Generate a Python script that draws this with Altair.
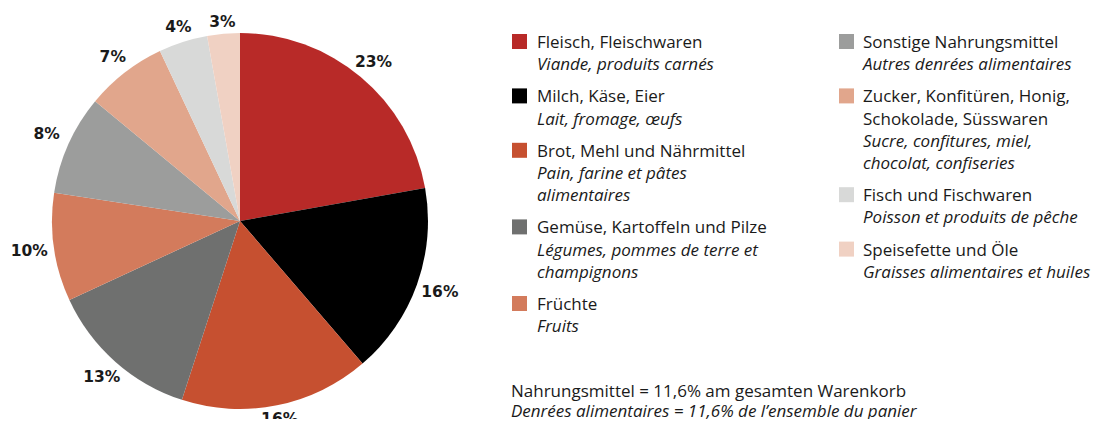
import math
import altair as alt
import pandas as pd

# ---- data ----
categories = [
    "Fleisch, Fleischwaren",
    "Milch, Käse, Eier",
    "Brot, Mehl und Nährmittel",
    "Gemüse, Kartoffeln und Pilze",
    "Früchte",
    "Sonstige Nahrungsmittel",
    "Zucker, Konfitüren, Honig, Schokolade, Süsswaren",
    "Fisch und Fischwaren",
    "Speisefette und Öle",
]
values = [22.2, 16.5, 16.3, 13.1, 9.3, 8.6, 7.0, 4.2, 2.8]
# printed labels
label_texts = ["23%", "16%", "16%", "13%", "10%", "8%", "7%", "4%", "3%"]
colors = ["#B82A28", "#000000", "#C65030", "#6F706F", "#D37B5C",
          "#9C9D9C", "#E1A68C", "#D8D9D8", "#F0D1C3"]

legend_de = [
    ["Fleisch, Fleischwaren"],
    ["Milch, Käse, Eier"],
    ["Brot, Mehl und Nährmittel"],
    ["Gemüse, Kartoffeln und Pilze"],
    ["Früchte"],
    ["Sonstige Nahrungsmittel"],
    ["Zucker, Konfitüren, Honig,", "Schokolade, Süsswaren"],
    ["Fisch und Fischwaren"],
    ["Speisefette und Öle"],
]
legend_fr = [
    ["Viande, produits carnés"],
    ["Lait, fromage, œufs"],
    ["Pain, farine et pâtes", "alimentaires"],
    ["Légumes, pommes de terre et", "champignons"],
    ["Fruits"],
    ["Autres denrées alimentaires"],
    ["Sucre, confitures, miel,", "chocolat, confiseries"],
    ["Poisson et produits de pêche"],
    ["Graisses alimentaires et huiles"],
]
legend_column = [0, 0, 0, 0, 0, 1, 1, 1, 1]

footnote = [
    "Nahrungsmittel = 11,6% am gesamten Warenkorb",
    "Denrées alimentaires = 11,6% de l’ensemble du panier",
]

# ---- layout constants ----
W, H = 1085, 411
CX, CY, R = 232, 213, 188
FONT = "Open Sans"
FS = 17
TXT = "#1a1a1a"

# ---- pie table ----
total = sum(values)
starts, ends, mids = [], [], []
cum = 0
for v in values:
    starts.append(cum)
    ends.append(cum + v)
    mids.append(cum + v / 2)
    cum += v
pie = pd.DataFrame({
    "cat": categories,
    "value": values,
    "start": starts,
    "end": ends,
    "mid": mids,
    "label": label_texts,
    "lr": [199 + 14 * abs(math.sin(m / total * 2 * math.pi)) for m in mids],
})

color_scale = alt.Scale(domain=categories, range=colors)
theta_scale = alt.Scale(domain=[0, total], range=[0, 2 * math.pi])

arcs = alt.Chart(pie).mark_arc(radius=R).encode(
    theta=alt.Theta("start:Q", scale=theta_scale, stack=None),
    theta2="end:Q",
    color=alt.Color("cat:N", scale=color_scale, legend=None),
    x=alt.value(CX), y=alt.value(CY),
)

labels = alt.Chart(pie).mark_text(
    font="DejaVu Sans", fontWeight="bold", fontSize=15.5, color=TXT,
    align="center", baseline="middle",
).encode(
    theta=alt.Theta("mid:Q", scale=theta_scale, stack=None),
    radius=alt.Radius("lr:Q", scale=None, stack=None),
    text="label:N",
    x=alt.value(CX), y=alt.value(CY),
)

# ---- legend table (positions derived from line counts) ----
col_text_x = [529, 855]
col_sq_x = [511.5, 838.5]
LINE, GAP, Y0 = 22.2, 10, 35
rows, squares = [], []
ypos = [Y0, Y0]
for i, cat in enumerate(categories):
    c = legend_column[i]
    y = ypos[c]
    squares.append({"cat": cat, "px": col_sq_x[c], "py": y - 1.5})
    for t in legend_de[i]:
        rows.append({"text": t, "style": "de", "px": col_text_x[c], "py": y})
        y += LINE
    for t in legend_fr[i]:
        rows.append({"text": t, "style": "fr", "px": col_text_x[c], "py": y})
        y += LINE
    ypos[c] = y + GAP
for j, t in enumerate(footnote):
    rows.append({"text": t, "style": "de" if j == 0 else "fr", "px": 503, "py": 384 + j * 19.5})

sq_df = pd.DataFrame(squares)
txt_df = pd.DataFrame(rows)

sq = alt.Chart(sq_df).mark_square(size=225, opacity=1).encode(
    x=alt.X("px:Q", scale=None, axis=None),
    y=alt.Y("py:Q", scale=None, axis=None),
    color=alt.Color("cat:N", scale=color_scale, legend=None),
)

txt_de = alt.Chart(txt_df).transform_filter("datum.style == 'de'").mark_text(
    font=FONT, fontSize=FS, color=TXT, align="left", baseline="middle",
).encode(
    x=alt.X("px:Q", scale=None, axis=None),
    y=alt.Y("py:Q", scale=None, axis=None),
    text="text:N",
)
txt_fr = alt.Chart(txt_df).transform_filter("datum.style == 'fr'").mark_text(
    font=FONT, fontSize=FS, fontStyle="italic", color=TXT, align="left", baseline="middle",
).encode(
    x=alt.X("px:Q", scale=None, axis=None),
    y=alt.Y("py:Q", scale=None, axis=None),
    text="text:N",
)

chart = alt.layer(arcs, labels, sq, txt_de, txt_fr).properties(
    width=W, height=H,
    autosize=alt.AutoSizeParams(type="none"),
    padding=0,
).configure_view(stroke=None)

chart.save("out.html", embed_options={"renderer": "svg", "actions": False})
